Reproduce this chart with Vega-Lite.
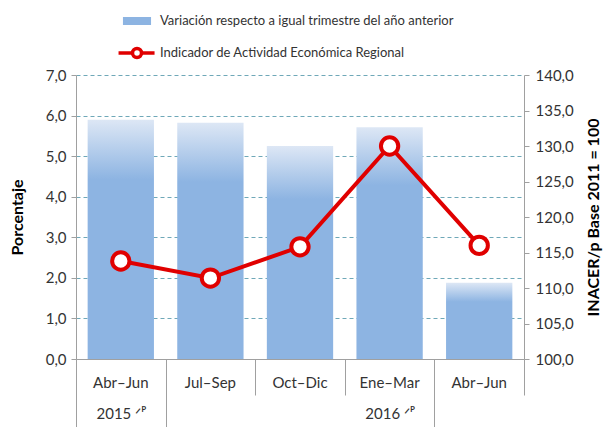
{
  "$schema": "https://vega.github.io/schema/vega-lite/v6.json",
  "width": 448,
  "height": 284,
  "autosize": {"type": "none"},
  "padding": {"left": 76, "top": 75, "right": 80, "bottom": 68},
  "background": "white",
  "config": {
    "font": "Lato",
    "view": {"stroke": null},
    "axis": {"labelColor": "#333333", "titleColor": "#000000", "labelFontSize": 15, "domainColor": "#A0A0A0", "tickColor": "#A0A0A0"}
  },
  "data": {
    "values": [
      {"q": "2015Q2", "var": 5.9, "inacer": 113.8},
      {"q": "2015Q3", "var": 5.82, "inacer": 111.4},
      {"q": "2015Q4", "var": 5.25, "inacer": 115.8},
      {"q": "2016Q1", "var": 5.71, "inacer": 130.0},
      {"q": "2016Q2", "var": 1.88, "inacer": 116.0}
    ]
  },
  "layer": [
    {
      "mark": {
        "type": "bar",
        "width": {"band": 0.74},
        "fill": {
          "gradient": "linear", "x1": 0, "y1": 0, "x2": 0, "y2": 1,
          "stops": [
            {"offset": 0, "color": "#DDE7F5"},
            {"offset": 0.25, "color": "#8DB4E2"},
            {"offset": 1, "color": "#8DB4E2"}
          ]
        }
      },
      "encoding": {
        "x": {
          "field": "q", "type": "nominal", "sort": null,
          "scale": {"paddingInner": 0, "paddingOuter": 0},
          "axis": {
            "orient": "bottom", "title": null, "domain": true, "ticks": false, "grid": false,
            "labelAngle": 0, "labelPadding": 16, "labelFontSize": 15,
            "labelExpr": "datum.value==='2015Q2'?'Abr–Jun':datum.value==='2015Q3'?'Jul–Sep':datum.value==='2015Q4'?'Oct–Dic':datum.value==='2016Q1'?'Ene–Mar':'Abr–Jun'"
          }
        },
        "y": {
          "field": "var", "type": "quantitative",
          "scale": {"domain": [0, 7], "nice": false, "zero": true},
          "axis": {
            "orient": "left", "title": "Porcentaje", "titleFontSize": 16, "titleFontWeight": "bold",
            "titlePadding": 20,
            "values": [0, 1, 2, 3, 4, 5, 6, 7],
            "labelExpr": "replace(format(datum.value, '.1f'), '.', ',')",
            "tickSize": 5, "labelPadding": 5,
            "grid": true, "gridColor": "#6FA8B8", "gridDash": [4, 3], "gridWidth": 1
          }
        }
      }
    },
    {
      "encoding": {
        "x": {
          "field": "q", "type": "nominal", "sort": null,
          "axis": {
            "orient": "bottom", "title": null, "domain": false, "grid": false, "ticks": true,
            "tickBand": "extent", "labelAngle": 0, "labelFontSize": 15, "labelPadding": -21,
            "tickSize": {"condition": {"test": "datum.value==='2015Q3'||datum.value==='2015Q4'||datum.value==='2016Q2'", "value": 36}, "value": 68},
            "labelExpr": "datum.value==='2015Q2'?'2015 ᐟᴾ':datum.value==='2016Q1'?'2016 ᐟᴾ':''",
            "encode": {
              "labels": {
                "dx": {"value": {"expr": "datum.value==='2015Q2' ? 89.6 : (datum.value==='2016Q1' ? 44.8 : 0)"}}
              }
            }
          }
        },
        "y": {
          "field": "inacer", "type": "quantitative",
          "scale": {"domain": [100, 140], "nice": false, "zero": false},
          "axis": {
            "orient": "right", "title": "INACER/p  Base  2011 = 100", "titleFontSize": 16, "titleFontWeight": "bold",
            "titleAngle": 270, "titlePadding": 28,
            "values": [100, 105, 110, 115, 120, 125, 130, 135, 140],
            "labelExpr": "replace(format(datum.value, '.1f'), '.', ',')",
            "tickSize": 5, "labelPadding": 6, "grid": false
          }
        }
      },
      "layer": [
        {
          "mark": {"type": "line", "strokeWidth": 4},
          "encoding": {
            "color": {
              "datum": "Indicador de Actividad Económica Regional",
              "scale": {
                "domain": ["Variación respecto a igual trimestre del año anterior", "Indicador de Actividad Económica Regional"],
                "range": ["#8DB4E2", "#E00000"]
              },
              "legend": {
                "orient": "none", "legendX": 44, "legendY": -71, "direction": "vertical",
                "title": null, "padding": 0, "symbolSize": 900, "rowPadding": 5,
                "symbolType": {"expr": "datum.value === 'Indicador de Actividad Económica Regional' ? 'M-1.23,0H-0.3M0.3,0H1.17M0.3,0A0.3,0.3,0,1,1,-0.3,0A0.3,0.3,0,1,1,0.3,0' : 'M-0.82,-0.15H0.82V0.15H-0.82Z'"},
                "symbolFillColor": {"expr": "datum.value === 'Indicador de Actividad Económica Regional' ? 'white' : '#8DB4E2'"},
                "symbolStrokeWidth": 3.5,
                "symbolOpacity": 1,
                "labelFontSize": 13, "labelColor": "#333333", "labelOffset": 6, "labelLimit": 400
              }
            }
          }
        },
        {
          "mark": {"type": "point", "filled": true, "fill": "white", "stroke": "#E00000", "strokeWidth": 4, "size": 300, "opacity": 1}
        }
      ]
    }
  ],
  "resolve": {"scale": {"y": "independent"}, "axis": {"x": "independent"}}
}
